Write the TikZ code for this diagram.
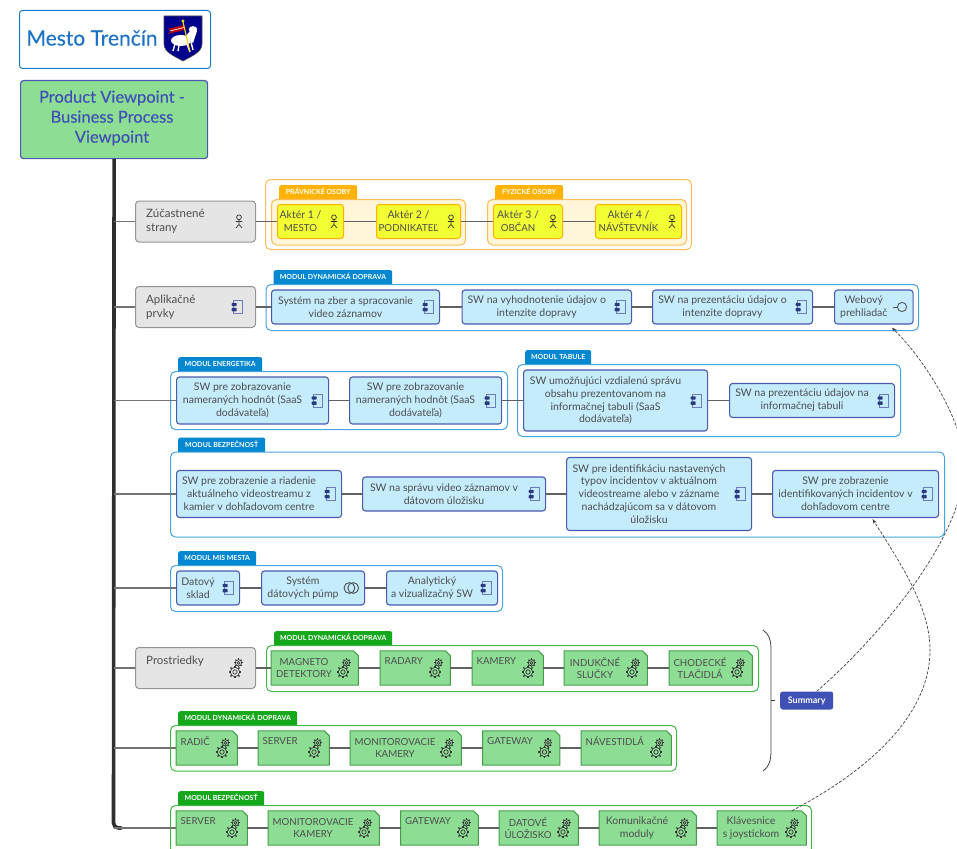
\documentclass[tikz,border=0pt]{standalone}
\usepackage{fontspec}
\setmainfont{Lato}
\newfontfamily\semifont[FakeBold=0.25]{Lato}
\usetikzlibrary{arrows.meta}

\definecolor{inkgray}{HTML}{4D4D4D}
\definecolor{indigoline}{HTML}{4A5AB0}
\definecolor{indigofill}{HTML}{3F51B5}
\definecolor{skyfill}{HTML}{C4ECFD}
\definecolor{skyline}{HTML}{45A5E2}
\definecolor{skytab}{HTML}{0288D1}
\definecolor{leaffill}{HTML}{8DDD95}
\definecolor{leafline}{HTML}{43A047}
\definecolor{leafgroup}{HTML}{3FBB45}
\definecolor{leaftab}{HTML}{16A81C}
\definecolor{amberline}{HTML}{FFBE55}
\definecolor{ambertab}{HTML}{FFB300}
\definecolor{amberfill}{HTML}{FFF6DA}
\definecolor{actorfill}{HTML}{F2FF33}

\newcommand{\plainsize}{\fontsize{10.5}{12.9}\selectfont}
\newcommand{\uppersize}{\fontsize{9.7}{12.9}\selectfont}

\tikzset{
	itemtext/.style={align=center, inner sep=0pt, text=inkgray, font=\plainsize},
	techtext/.style={itemtext, font=\uppersize},
	graytext/.style={itemtext, align=left, anchor=west, font=\fontsize{11.5}{14.5}\selectfont},
	appbox/.style={draw=indigoline, fill=skyfill, line width=1.1pt, rounded corners=3pt, inner sep=0pt},
	actorbox/.style={draw=ambertab, fill=actorfill, line width=1pt, rounded corners=3pt, inner sep=0pt},
	techbox/.style={inner sep=0pt},
	techoutline/.style={draw=leafline, fill=leaffill, line width=1pt},
	graybox/.style={draw=black!42, fill=black!10, line width=1pt, rounded corners=3.5pt, inner sep=0pt, anchor=west, minimum width=120pt, minimum height=41pt},
	skygroup/.style={draw=skyline, fill=white, line width=1pt, rounded corners=5pt, inner sep=0pt},
	leafbox/.style={draw=leafgroup, fill=white, line width=1pt, rounded corners=5pt, inner sep=0pt},
	ambergroup/.style={draw=amberline, fill=white, line width=1pt, rounded corners=5pt, inner sep=0pt},
	amberinner/.style={draw=amberline, fill=amberfill, line width=1pt, rounded corners=5pt, inner sep=0pt},
	tabbase/.style={anchor=north west, inner sep=0pt, rounded corners=2pt, text=white, minimum height=17pt, text height=5pt, text depth=3pt, font=\fontsize{7}{8}\selectfont\bfseries},
	skytabnode/.style={tabbase, fill=skytab},
	leaftabnode/.style={tabbase, fill=leaftab},
	ambertabnode/.style={tabbase, fill=ambertab},
	itemlink/.style={draw=black!62, line width=1.6pt},
	branch/.style={draw=black!55, line width=1.2pt},
	trunkline/.style={draw=black!82, line width=3.6pt, rounded corners=5pt},
	tracelink/.style={draw=black!75, line width=.7pt, dash pattern=on 3pt off 1.6pt},
	compicon/.pic={
		\draw[indigoline!80, line width=.6pt] (-3.7,-6.5) rectangle (5.7,6.5);
		\fill[indigofill!70!black, rounded corners=.8pt] (-5.3,-4.2) rectangle (-.3,-.8);
		\fill[indigofill!70!black, rounded corners=.8pt] (-5.3,.9) rectangle (-.3,4.4);
	},
	actoricon/.pic={
		\draw[black!80, line width=.7pt] (2,-4.2) circle (2.4);
		\draw[black!80, line width=.7pt] (2,-1.8) -- (2,3) (-1.2,0) -- (5.2,0) (-1,6.4) -- (2,3) -- (5,6.4);
	},
	facadeicon/.pic={
		\draw[black!70, line width=.8pt] (-8.5,0) -- (-4.1,0);
		\draw[black!70, line width=.8pt] (.5,0) circle (4.6);
	},
	pumpicon/.pic={
		\draw[black!75, line width=.8pt] (-3.6,0) circle (5.4);
		\draw[black!75, line width=.8pt] (.2,0) circle (5.4);
	},
	gearwheel/.pic={
		\foreach \a in {0,45,...,315}
			\draw[black!78, line width=1.3pt] (\a:4.5) -- (\a:6.4);
		\draw[black!78, line width=.7pt] (0,0) circle (4.7);
		\draw[black!78, line width=.7pt] (0,0) circle (2.2);
	},
	gearicon/.pic={
		\pic[scale=.68] at (1.5,-5.2) {gearwheel};
		\pic at (-2,4) {gearwheel};
	},
}

% style, name, left, right, middle y, height, icon, text
\newcommand{\itembox}[8]{
	\node[#1, anchor=west, minimum width=#4pt-#3pt, minimum height=#6pt] (#2) at (#3,#5) {};
	\node[itemtext] (#2t) at ({(#3+#4-19)/2},#5) {#8};
	\pic at ({#4-11},#5) {#7};
}
% name, left, right, middle y
\newcommand{\techshape}[4]{
	\node[techbox, anchor=west, minimum width=#3pt-#2pt, minimum height=34pt] (#1) at (#2,#4) {};
	\draw[techoutline] (#1.north west) -- ([xshift=-5pt]#1.north east) -- ([yshift=-5pt]#1.north east) -- (#1.south east) -- (#1.south west) -- cycle;
	\pic at ({#3-13},#4) {gearicon};
}
% name, left, right, middle y, text
\newcommand{\techitem}[5]{
	\techshape{#1}{#2}{#3}{#4}
	\node[techtext] (#1t) at ({(#2+#3-21)/2},#4) {#5};
}
\newcommand{\techtop}[5]{
	\techshape{#1}{#2}{#3}{#4}
	\node[techtext, anchor=west] (#1t) at ({#2+4.5},{#4-7}) {#5};
}
% tab style, group style, name, left, top, right, bottom, tab right, text
\newcommand{\groupbox}[9]{
	\node[#1, minimum width=#8pt-#4pt-8pt] (#3tab) at ({#4+8},{#5-14}) {#9};
	\node[#2, anchor=north west, minimum width=#6pt-#4pt, minimum height=#7pt-#5pt] (#3) at (#4,#5) {};
}

\begin{document}
\begin{tikzpicture}[x=1pt, y=-1pt]
	\useasboundingbox (0,0) rectangle (957,848);
	\clip (0,0) rectangle (957,848);

	% header
	\node[draw=skytab!70!indigoline, line width=1pt, rounded corners=3pt, anchor=north west, minimum width=191pt, minimum height=58pt] (logo) at (19,10) {};
	\node[text=skytab!60!indigofill, inner sep=0pt, font=\fontsize{21}{24}\selectfont\semifont] (cityname) at (92,38) {Mesto Trenčín};
	\draw[black!70, fill=blue!55!black, line width=.6pt] (164,16) -- (202,16) -- (202,44) .. controls (202,52) and (192,56) .. (183,61) .. controls (174,56) and (164,52) .. (164,44) -- cycle;
	\fill[white] (181,40.5) ellipse (10 and 5.5);
	\fill[white] (193,29.5) ellipse (4.2 and 3.4);
	\fill[white] (190,31) -- (197,31) -- (193,43) -- (185,37) -- cycle;
	\draw[white, line width=1.4pt] (175,44) -- (173,51) (179,45) -- (178,51) (187,44) -- (190,52) (191,42) -- (193,50);
	\fill[red!75!black] (184,25) -- (168,29) -- (171,31) -- (168,34) -- (184,30) -- cycle;
	\draw[white, line width=.7pt] (170,31) -- (184,27.5);
	\draw[yellow!80!orange, line width=1.1pt] (183,22) -- (190,52);
	\fill[yellow!80!orange] (183,21) circle (1.7);

	\node[draw=indigoline, fill=leaffill, line width=1.2pt, rounded corners=3pt, anchor=north west, minimum width=187pt, minimum height=78pt, inner sep=0pt] (root) at (20,80) {};
	\node[align=center, inner sep=0pt, text=indigofill, font=\fontsize{16.5}{20}\selectfont\semifont] (roottext) at (112,118) {Product Viewpoint -\\Business Process\\Viewpoint};

	% trunk
	\coordinate (t1) at (113.5,221.5);
	\coordinate (t2) at (113.5,307);
	\coordinate (t3) at (113.5,400.5);
	\coordinate (t4) at (113.5,494);
	\coordinate (t5) at (113.5,588);
	\coordinate (t6) at (113.5,668);
	\coordinate (t7) at (113.5,748);
	\coordinate (t8) at (113.5,828);
	\draw[trunkline] (root.south) -- (t8) -- ++(8,0);

	% gray rows
	\node[graybox] (zucast) at (135,221.5) {};
	\node[graytext] (zucastt) at (146,221.5) {Zúčastnené\\strany};
	\pic at (237,221.5) {actoricon};
	\node[graybox] (aplik) at (135,307) {};
	\node[graytext] (aplikt) at (146,307) {Aplikačné\\prvky};
	\pic at (237,307) {compicon};
	\node[graybox] (prostr) at (135,668) {};
	\node[graytext] (prostrt) at (146,661) {Prostriedky};
	\pic at (237,668) {gearicon};

	% actors
	\node[ambergroup, anchor=north west, minimum width=426pt, minimum height=70pt] (actors) at (265,179) {};
	\groupbox{ambertabnode}{amberinner}{legal}{271}{199}{465}{244.5}{357}{PRÁVNICKÉ OSOBY}
	\groupbox{ambertabnode}{amberinner}{natural}{487}{199}{686}{244.5}{563}{FYZICKÉ OSOBY}
	\itembox{actorbox}{akta}{277}{343}{221.5}{34}{actoricon}{Aktér 1 /\\\uppersize MESTO}
	\itembox{actorbox}{aktb}{376}{460}{221.5}{34}{actoricon}{Aktér 2 /\\\uppersize PODNIKATEĽ}
	\itembox{actorbox}{aktc}{493}{562}{221.5}{34}{actoricon}{Aktér 3 /\\\uppersize OBČAN}
	\itembox{actorbox}{aktd}{595}{681}{221.5}{34}{actoricon}{Aktér 4 /\\\uppersize NÁVŠTEVNÍK}

	% applications
	\groupbox{skytabnode}{skygroup}{dyn}{265.5}{284}{918}{330}{392}{MODUL DYNAMICKÁ DOPRAVA}
	\itembox{appbox}{zber}{271}{439}{307}{34}{compicon}{Systém na zber a spracovanie\\video záznamov}
	\itembox{appbox}{vyhod}{461.5}{631}{307}{34}{compicon}{SW na vyhodnotenie údajov o\\intenzite dopravy}
	\itembox{appbox}{prez}{652}{812}{307}{34}{compicon}{SW na prezentáciu údajov o\\intenzite dopravy}
	\itembox{appbox}{web}{834}{912.5}{307}{34}{facadeicon}{Webový\\prehliadač}

	\groupbox{skytabnode}{skygroup}{ener}{170}{371}{507}{429}{262}{MODUL ENERGETIKA}
	\itembox{appbox}{enea}{176}{328}{400.5}{47}{compicon}{SW pre zobrazovanie\\nameraných hodnôt (SaaS\\dodávateľa)}
	\itembox{appbox}{eneb}{349}{501}{400.5}{47}{compicon}{SW pre zobrazovanie\\nameraných hodnôt (SaaS\\dodávateľa)}

	\groupbox{skytabnode}{skygroup}{tab}{517}{364}{900}{436}{591}{MODUL TABULE}
	\itembox{appbox}{taba}{523}{707}{400.5}{61}{compicon}{SW umožňujúci vzdialenú správu\\obsahu prezentovanom na\\informačnej tabuli (SaaS\\dodávateľa)}
	\itembox{appbox}{tabb}{729}{894}{400.5}{34}{compicon}{SW na prezentáciu údajov na\\informačnej tabuli}

	\groupbox{skytabnode}{skygroup}{sec}{170}{451.5}{944}{536.5}{265}{MODUL BEZPEČNOSŤ}
	\itembox{appbox}{seca}{176}{341}{494}{47}{compicon}{SW pre zobrazenie a riadenie\\aktuálneho videostreamu z\\kamier v dohľadovom centre}
	\itembox{appbox}{secb}{362}{545}{494}{34}{compicon}{SW na správu video záznamov v\\dátovom úložisku}
	\itembox{appbox}{secc}{566}{751}{494}{73}{compicon}{SW pre identifikáciu nastavených\\typov incidentov v aktuálnom\\videostreame alebo v zázname\\nachádzajúcom sa v dátovom\\úložisku}
	\itembox{appbox}{secd}{772}{938}{494}{47}{compicon}{SW pre zobrazenie\\identifikovaných incidentov v\\dohľadovom centre}

	\groupbox{skytabnode}{skygroup}{mis}{170}{565}{502}{611}{256}{MODUL MIS MESTA}
	\itembox{appbox}{misa}{176}{239}{588}{34}{compicon}{Datový\\sklad}
	\itembox{appbox}{misb}{261}{364}{588}{34}{pumpicon}{Systém\\dátových púmp}
	\itembox{appbox}{misc}{386}{497}{588}{34}{compicon}{Analytický\\a vizualizačný SW}

	% technology
	\groupbox{leaftabnode}{leafbox}{devd}{266}{645}{758}{691}{392}{MODUL DYNAMICKÁ DOPRAVA}
	\techitem{magn}{271}{358}{668}{MAGNETO\\DETEKTORY}
	\techtop{rada}{380}{450}{668}{RADARY}
	\techtop{kame}{472}{543}{668}{KAMERY}
	\techitem{indu}{564}{647}{668}{INDUKČNÉ\\SLUČKY}
	\techitem{chod}{669}{752}{668}{CHODECKÉ\\TLAČIDLÁ}

	\groupbox{leaftabnode}{leafbox}{devr}{170}{725}{676}{770.5}{297}{MODUL DYNAMICKÁ DOPRAVA}
	\techtop{radi}{176}{237}{748}{RADIČ}
	\techtop{serv}{258}{329}{748}{SERVER}
	\techitem{moni}{350}{461}{748}{MONITOROVACIE\\KAMERY}
	\techtop{gate}{482.5}{559.5}{748}{GATEWAY}
	\techtop{nave}{581}{671}{748}{NÁVESTIDLÁ}

	\groupbox{leaftabnode}{leafbox}{devs}{170}{805}{811}{856}{264}{MODUL BEZPEČNOSŤ}
	\techtop{servb}{176}{247}{828}{SERVER}
	\techitem{monib}{268}{379}{828}{MONITOROVACIE\\KAMERY}
	\techtop{gateb}{400.5}{478}{828}{GATEWAY}
	\techitem{dato}{499}{578}{828}{DATOVÉ\\ÚLOŽISKO}
	\techitem{komu}{599}{696}{828}{\plainsize Komunikačné\\\plainsize moduly}
	\techitem{klav}{717}{806}{828}{\plainsize Klávesnice\\\plainsize s joystickom}

	% connectors
	\foreach \c/\b in {t1/zucast, t2/aplik, t3/enea, t4/seca, t5/misa, t6/prostr, t7/radi, t8/servb}
		\draw[branch] (\c) -- (\b.west);
	\foreach \a/\b in {zucast/akta, akta/aktb, aktb/aktc, aktc/aktd, aplik/zber, zber/vyhod, vyhod/prez, prez/web, enea/eneb, eneb/taba, taba/tabb, seca/secb, secb/secc, secc/secd, misa/misb, misb/misc, prostr/magn, magn/rada, rada/kame, kame/indu, indu/chod, radi/serv, serv/moni, moni/gate, gate/nave, servb/monib, monib/gateb, gateb/dato, dato/komu, komu/klav}
		\draw[itemlink] (\a.east) -- (\b.west);

	% summary
	\draw[black!75, line width=.8pt] (763,630) .. controls (769,634) and (771,640) .. (771,650) -- (771,750) .. controls (771,761) and (769,767) .. (763,771);
	\draw[black!75, line width=.8pt] (771,700.5) -- (775,700.5);
	\node[fill=indigofill, rounded corners=2.5pt, inner sep=0pt, minimum width=53pt, minimum height=18pt, anchor=west, text=white, font=\fontsize{9}{11}\selectfont\bfseries] (summary) at (780,700.5) {Summary};
	\draw[tracelink, -{Stealth[length=5pt,width=3.5pt]}] ([xshift=10pt]summary.north) .. controls (870,645) and (935,570) .. (957,505) .. controls (970,470) and (965,445) .. (957,428) .. controls (945,395) and (920,355) .. ([xshift=18pt,yshift=-3pt]web.south);
	\draw[tracelink, -{Stealth[length=5pt,width=3.5pt]}] ([xshift=30pt]klav.north) .. controls (860,775) and (930,720) .. (930,650) .. controls (930,610) and (905,570) .. ([xshift=17pt,yshift=-1pt]secd.south);
\end{tikzpicture}
\end{document}
